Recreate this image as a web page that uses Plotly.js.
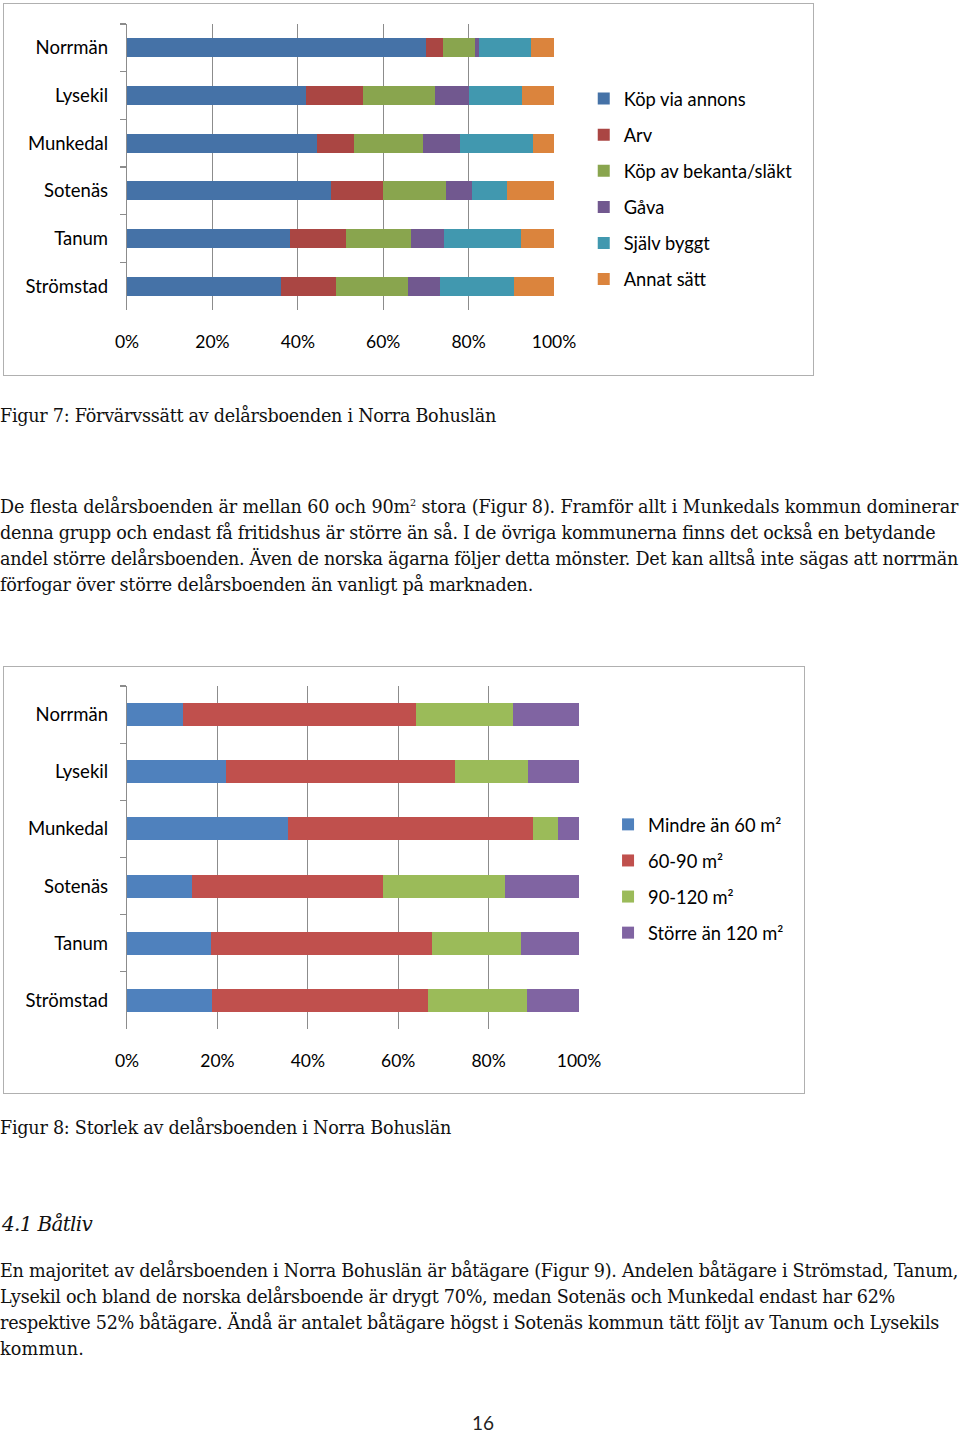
<!DOCTYPE html>
<html>
<head>
<meta charset="utf-8">
<script src="https://cdn.plot.ly/plotly-3.0.1.min.js"></script>
<style>
  html, body { margin: 0; padding: 0; background: #fff; }
  body { width: 960px; height: 1432px; position: relative; overflow: hidden; }
  .chartbox { position: absolute; border: 1.5px solid #b0b0b0; box-sizing: border-box; background: #fff; }
  .txt { position: absolute; left: 0; font-family: "DejaVu Serif", "Liberation Serif", serif; font-size: 17.6px; line-height: 26px; color: #111; white-space: nowrap; }
  .txt span.ln { display: block; white-space: nowrap; width: max-content; }
  sup { font-size: 0.55em; vertical-align: 0.7em; line-height: 0; }
</style>
</head>
<body>
<div id="c1" class="chartbox" style="left:3px; top:3px; width:811px; height:373px;"></div>
<div class="txt" style="top:403px;"><span class="ln" data-w="496">Figur 7: Förvärvssätt av delårsboenden i Norra Bohuslän</span></div>
<div class="txt" style="top:494px;">
  <span class="ln" data-w="958">De flesta delårsboenden är mellan 60 och 90m<sup>2</sup> stora (Figur 8). Framför allt i Munkedals kommun dominerar</span>
  <span class="ln" data-w="935">denna grupp och endast få fritidshus är större än så. I de övriga kommunerna finns det också en betydande</span>
  <span class="ln" data-w="958">andel större delårsboenden. Även de norska ägarna följer detta mönster. Det kan alltså inte sägas att norrmän</span>
  <span class="ln" data-w="533">förfogar över större delårsboenden än vanligt på marknaden.</span>
</div>
<div id="c2" class="chartbox" style="left:3px; top:666px; width:802px; height:428px;"></div>
<div class="txt" style="top:1115px;"><span class="ln" data-w="451">Figur 8: Storlek av delårsboenden i Norra Bohuslän</span></div>
<div class="txt" style="top:1211px; left:2px; font-style:italic; font-size:20px;"><span class="ln" data-w="90">4.1 Båtliv</span></div>
<div class="txt" style="top:1258px;">
  <span class="ln" data-w="958">En majoritet av delårsboenden i Norra Bohuslän är båtägare (Figur 9). Andelen båtägare i Strömstad, Tanum,</span>
  <span class="ln" data-w="895">Lysekil och bland de norska delårsboende är drygt 70%, medan Sotenäs och Munkedal endast har 62%</span>
  <span class="ln" data-w="939">respektive 52% båtägare. Ändå är antalet båtägare högst i Sotenäs kommun tätt följt av Tanum och Lysekils</span>
  <span class="ln" data-w="84">kommun.</span>
</div>
<div style="position:absolute; top:1410px; left:0; width:966px; text-align:center; font-family: Lato, sans-serif; font-size:19px; line-height:26px; color:#222;">16</div>

<script>
// ---- Figur 7 data (share, %) ----
const categories = ["Norrmän", "Lysekil", "Munkedal", "Sotenäs", "Tanum", "Strömstad"];
const fig7Series = ["Köp via annons", "Arv", "Köp av bekanta/släkt", "Gåva", "Själv byggt", "Annat sätt"];
const kopViaAnnons   = [70.0, 41.9, 44.5, 47.7, 38.1, 36.1];
const arv            = [4.0, 13.3, 8.6, 12.2, 13.2, 12.9];
const kopAvBekanta   = [7.4, 17.0, 16.2, 14.8, 15.1, 16.9];
const gava           = [1.0, 8.0, 8.6, 6.0, 7.9, 7.5];
const sjalvByggt     = [12.1, 12.4, 17.1, 8.2, 18.0, 17.2];
const annatSatt      = [5.5, 7.4, 5.0, 11.1, 7.7, 9.4];
const fig7Colors = ["#4572A7", "#AA4643", "#89A54E", "#71588F", "#4198AF", "#DB843D"];

// ---- Figur 8 data (share, %) ----
const fig8Series = ["Mindre än 60 m²", "60-90 m²", "90-120 m²", "Större än 120 m²"];
const mindre60   = [12.3, 21.8, 35.7, 14.3, 18.6, 18.7];
const m60_90     = [51.6, 50.7, 54.2, 42.3, 48.9, 47.9];
const m90_120    = [21.5, 16.3, 5.5, 27.1, 19.7, 21.8];
const storre120  = [14.6, 11.2, 4.6, 16.3, 12.8, 11.6];
const fig8Colors = ["#4F81BD", "#C0504D", "#9BBB59", "#8064A2"];

const tickVals = [0, 20, 40, 60, 80, 100];
const tickText = ["0%", "20%", "40%", "60%", "80%", "100%"];

const FONT = "Lato, 'Open Sans', sans-serif";

// fit text lines to the widths they have in the page
document.querySelectorAll("span.ln").forEach(el => {
  const target = +el.dataset.w;
  const natural = el.getBoundingClientRect().width;
  const n = el.textContent.length;
  el.style.letterSpacing = ((target - natural) / n).toFixed(3) + "px";
});

function makeTraces(seriesNames, seriesValues, colors) {
  return seriesNames.map((name, i) => ({
    type: "bar",
    orientation: "h",
    name: name,
    y: categories,
    x: seriesValues[i],
    marker: { color: colors[i], line: { width: 0 } },
    legendgroup: "g" + i,
    hoverinfo: "name+x"
  }));
}

function makeLayout(w, h, margin, legend) {
  return {
    width: w, height: h,
    margin: margin,
    paper_bgcolor: "rgba(0,0,0,0)",
    plot_bgcolor: "#fff",
    barmode: "stack",
    bargap: 0.6,
    showlegend: true,
    font: { family: FONT, size: 17.5, color: "#000" },
    legend: Object.assign({
      xref: "container", yref: "container",
      xanchor: "left", yanchor: "top",
      traceorder: "grouped",
      maxheight: 1000,
      font: { family: FONT, size: 18.3, color: "#000" },
      bgcolor: "rgba(0,0,0,0)",
      borderwidth: 0
    }, legend),
    xaxis: {
      range: [0, 100],
      tickmode: "array", tickvals: tickVals, ticktext: tickText,
      tickfont: { family: FONT, size: 17.5, color: "#000" },
      showgrid: true, gridcolor: "#8c8c8c", gridwidth: 1.2,
      zeroline: false, showline: false, ticks: "",
      ticklabelstandoff: 19,
      fixedrange: true
    },
    yaxis: {
      type: "category",
      autorange: "reversed",
      tickfont: { family: FONT, size: 18.5, color: "#000" },
      showline: true, linecolor: "#8c8c8c", linewidth: 1.2,
      ticks: "outside", tickson: "boundaries", ticklen: 6, tickcolor: "#8c8c8c", tickwidth: 1.2,
      ticklabelstandoff: 14,
      showgrid: false, zeroline: false,
      fixedrange: true
    }
  };
}

const cfg = { staticPlot: true, displayModeBar: false };

Plotly.newPlot("c1",
  makeTraces(fig7Series, [kopViaAnnons, arv, kopAvBekanta, gava, sjalvByggt, annatSatt], fig7Colors),
  makeLayout(808, 370, { l: 123, r: 258, t: 20, b: 64 },
    { x: 0.7175, y: 0.794, tracegroupgap: 9.3 }),
  cfg);

Plotly.newPlot("c2",
  makeTraces(fig8Series, [mindre60, m60_90, m90_120, storre120], fig8Colors),
  makeLayout(799, 425, { l: 123, r: 224, t: 19, b: 63 },
    { x: 0.756, y: 0.673, tracegroupgap: 9.3 }),
  cfg);
</script>
</body>
</html>
